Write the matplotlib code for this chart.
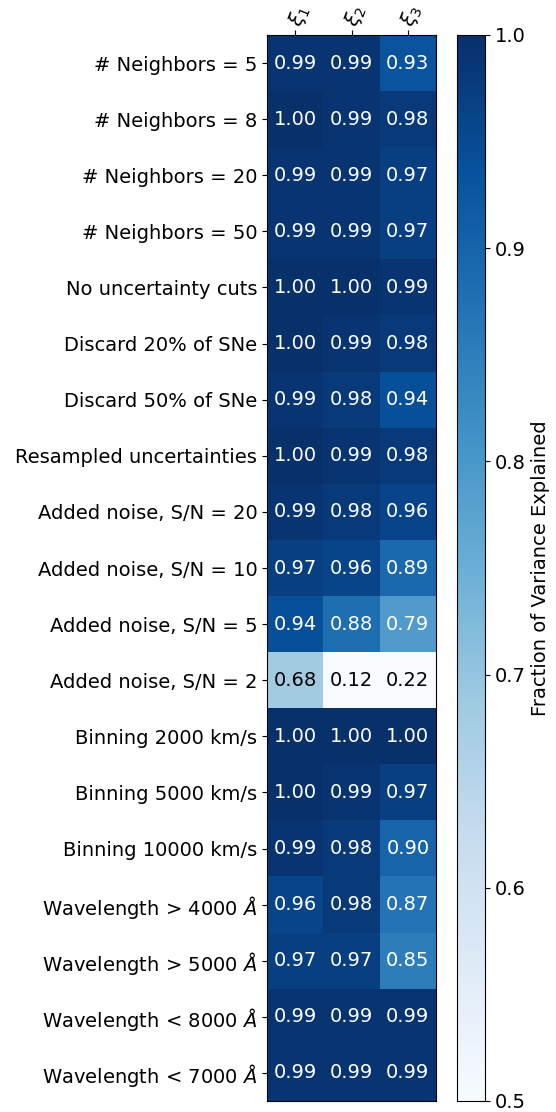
import numpy as np
import matplotlib
matplotlib.use("Agg")
import matplotlib.pyplot as plt

# Row labels (variations of the analysis)
ROWS = [
    "# Neighbors = 5",
    "# Neighbors = 8",
    "# Neighbors = 20",
    "# Neighbors = 50",
    "No uncertainty cuts",
    "Discard 20% of SNe",
    "Discard 50% of SNe",
    "Resampled uncertainties",
    "Added noise, S/N = 20",
    "Added noise, S/N = 10",
    "Added noise, S/N = 5",
    "Added noise, S/N = 2",
    "Binning 2000 km/s",
    "Binning 5000 km/s",
    "Binning 10000 km/s",
    r"Wavelength > 4000 $\AA$",
    r"Wavelength > 5000 $\AA$",
    r"Wavelength < 8000 $\AA$",
    r"Wavelength < 7000 $\AA$",
]
COLS = [r"$\xi_1$", r"$\xi_2$", r"$\xi_3$"]

# Fraction of variance explained, per component
xi1 = [0.99, 1.00, 0.99, 0.99, 1.00, 1.00, 0.99, 1.00, 0.99, 0.97,
       0.94, 0.68, 1.00, 1.00, 0.99, 0.96, 0.97, 0.99, 0.99]
xi2 = [0.99, 0.99, 0.99, 0.99, 1.00, 0.99, 0.98, 0.99, 0.98, 0.96,
       0.88, 0.12, 1.00, 0.99, 0.98, 0.98, 0.97, 0.99, 0.99]
xi3 = [0.93, 0.98, 0.97, 0.97, 0.99, 0.98, 0.94, 0.98, 0.96, 0.89,
       0.79, 0.22, 1.00, 0.97, 0.90, 0.87, 0.85, 0.99, 0.99]

data = np.array([xi1, xi2, xi3]).T

fig = plt.figure(figsize=(5.56, 11.12), dpi=100)
ax = fig.add_axes([267 / 556, 11 / 1112, 169 / 556, 1066 / 1112])
cax = fig.add_axes([457 / 556, 11 / 1112, 28 / 556, 1066 / 1112])

im = ax.imshow(data, cmap="Blues", vmin=0.5, vmax=1.0, aspect="auto")

for i in range(data.shape[0]):
    for j in range(data.shape[1]):
        v = data[i, j]
        color = "white" if v > 0.75 else "black"
        ax.text(j, i, f"{v:.2f}", ha="center", va="center", color=color, fontsize=14)

ax.set_yticks(range(len(ROWS)))
ax.set_yticklabels(ROWS, fontsize=14)
ax.set_xticks(range(len(COLS)))
ax.set_xticklabels(COLS, fontsize=14.5, rotation=68, ha="left", va="center",
                   rotation_mode="anchor")
ax.tick_params(axis="x", pad=3)
ax.xaxis.tick_top()

cb = fig.colorbar(im, cax=cax)
cb.set_ticks([0.5, 0.6, 0.7, 0.8, 0.9, 1.0])
cb.ax.tick_params(labelsize=14)
cb.set_label("Fraction of Variance Explained", fontsize=14)

fig.savefig("out.png", dpi=100)
